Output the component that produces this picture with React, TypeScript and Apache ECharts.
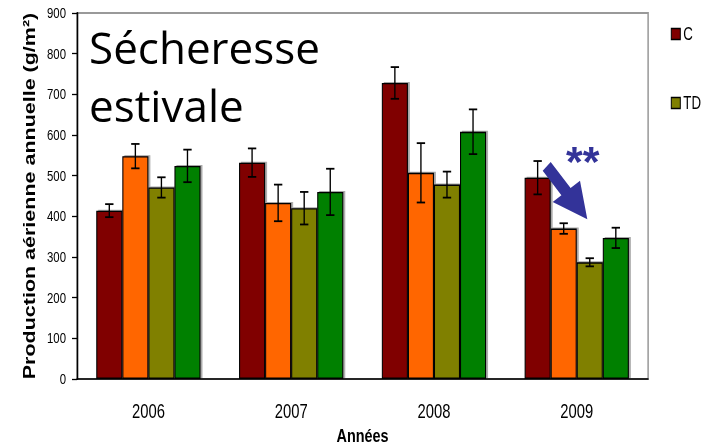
import React, { useEffect, useRef } from "react";
import * as echarts from "echarts";

const years = ["2006", "2007", "2008", "2009"];
const seriesNames = ["C", "T", "TD", "D"];
const seriesColors = ["#800000", "#FF6600", "#808000", "#008000"];
const valuesC = [414, 532, 728, 495];
const valuesT = [548, 433, 507, 370];
const valuesTD = [471, 420, 478, 287];
const valuesD = [524, 460, 608, 347];
const errC = [16, 35, 39, 41];
const errT = [30, 45, 73, 13];
const errTD = [25, 40, 32, 10];
const errD = [40, 57, 55, 25];
const yTicks = [0, 100, 200, 300, 400, 500, 600, 700, 800, 900];
const yTitle = "Production aérienne annuelle (g/m²)";
const xTitle = "Années";
const legendItems = ["C", "TD"];

const allValues = [valuesC, valuesT, valuesTD, valuesD];
const allErrors = [errC, errT, errTD, errD];
const GAP = 0.27;
// the reference chart is horizontally condensed; render wider and squash
const S = 0.76;
const W = 712;
const H = 444;
const FONT = "'Liberation Sans', Arial, sans-serif";
const u = (x: number) => x / S;

export default function App() {
  const ref = useRef<HTMLDivElement>(null);
  useEffect(() => {
    if (!ref.current) return;
    const chart = echarts.init(ref.current, null, { renderer: "svg" });
    const series: any[] = [];
    allValues.forEach((vals, i) => {
      series.push({
        name: seriesNames[i],
        type: "bar",
        data: vals,
        barGap: "0%",
        barCategoryGap: GAP * 100 + "%",
        itemStyle: {
          color: seriesColors[i],
          borderColor: "#000",
          borderWidth: 1.4,
          shadowColor: "rgba(0,0,0,0.35)",
          shadowOffsetX: 2.5,
          shadowOffsetY: -1,
          shadowBlur: 0,
        },
        z: 2,
      });
    });
    allValues.forEach((vals, i) => {
      series.push({
        type: "custom",
        name: seriesNames[i] + "_err",
        data: vals.map((v, k) => [k, v - allErrors[i][k], v + allErrors[i][k]]),
        z: 5,
        renderItem: (params: any, api: any) => {
          const idx = api.value(0);
          const lo = api.coord([idx, api.value(1)]);
          const hi = api.coord([idx, api.value(2)]);
          const band = api.size([1, 0])[0];
          const bw = (band * (1 - GAP)) / 4;
          const x = lo[0] + (i - 1.5) * bw;
          const cap = 5.5;
          const st = { stroke: "#000", lineWidth: 1.8 };
          return {
            type: "group",
            children: [
              { type: "line", shape: { x1: x, y1: lo[1], x2: x, y2: hi[1] }, style: st },
              { type: "line", shape: { x1: x - cap, y1: lo[1], x2: x + cap, y2: lo[1] }, style: st },
              { type: "line", shape: { x1: x - cap, y1: hi[1], x2: x + cap, y2: hi[1] }, style: st },
            ],
          };
        },
      });
    });
    const arrowPts = [
      [542.7, 170.7],
      [550.7, 162],
      [570.6, 188],
      [580, 180.7],
      [587.3, 219.3],
      [552.7, 202],
      [561.4, 195.2],
    ].map((p) => [u(p[0]), p[1]]);
    chart.setOption({
      animation: false,
      textStyle: { fontFamily: FONT },
      grid: {
        left: u(77),
        right: u(W - 648),
        top: 13,
        bottom: H - 379,
        show: true,
        borderColor: "#999",
        borderWidth: 2,
        containLabel: false,
        outerBoundsMode: "none",
      },
      legend: {
        data: legendItems,
        orient: "vertical",
        left: u(667),
        top: 20,
        itemGap: 51,
        itemWidth: u(9),
        itemHeight: 11,
        icon: "rect",
        textStyle: { fontSize: 17.5, color: "#000", fontFamily: FONT, padding: [0, 0, 0, -1] },
        itemStyle: { borderColor: "#000", borderWidth: 1.3 },
      },
      xAxis: {
        type: "category",
        data: years,
        name: xTitle,
        nameLocation: "middle",
        nameGap: 41,
        nameTextStyle: { fontSize: 19, fontWeight: "bold", color: "#000", fontFamily: FONT },
        axisLine: { lineStyle: { color: "#000", width: 1.5 } },
        axisTick: { inside: true, length: 5, lineStyle: { color: "#555", width: 1.5 } },
        axisLabel: { fontSize: 19.5, color: "#000", margin: 22, fontFamily: FONT },
      },
      yAxis: {
        type: "value",
        min: yTicks[0],
        max: yTicks[yTicks.length - 1],
        interval: 100,
        name: yTitle,
        nameLocation: "middle",
        nameGap: 52,
        nameTextStyle: { fontSize: 21.5, fontWeight: "bold", color: "#000", fontFamily: FONT },
        axisLine: { show: true, lineStyle: { color: "#000", width: 2 } },
        axisTick: { show: true, length: u(5), lineStyle: { color: "#000", width: 1.3 } },
        axisLabel: { fontSize: 15, color: "#000", margin: u(11), fontFamily: FONT },
        splitLine: { show: false },
      },
      graphic: [
        {
          type: "text",
          x: u(89),
          y: 18,
          scaleX: 1 / S,
          style: {
            text: "Sécheresse\nestivale",
            font: "400 44px 'Open Sans', sans-serif",
            lineHeight: 58,
            fill: "#000",
            verticalAlign: "top",
          },
          z: 10,
        },
        {
          type: "polygon",
          shape: { points: arrowPts },
          style: { fill: "#333399" },
          z: 10,
        },
        {
          type: "text",
          x: u(566),
          y: 139,
          scaleX: 1 / S,
          style: {
            text: "**",
            font: "bold 43px 'Liberation Sans', Arial, sans-serif",
            fill: "#333399",
            verticalAlign: "top",
          },
          z: 10,
        },
      ],
      series,
    });
    return () => chart.dispose();
  }, []);
  return (
    <div style={{ position: "absolute", left: 0, top: 0, width: W, height: H, overflow: "hidden", background: "#fff" }}>
      <div
        ref={ref}
        style={{ width: W / S, height: H, transform: `scaleX(${S})`, transformOrigin: "0 0" }}
      />
    </div>
  );
}
